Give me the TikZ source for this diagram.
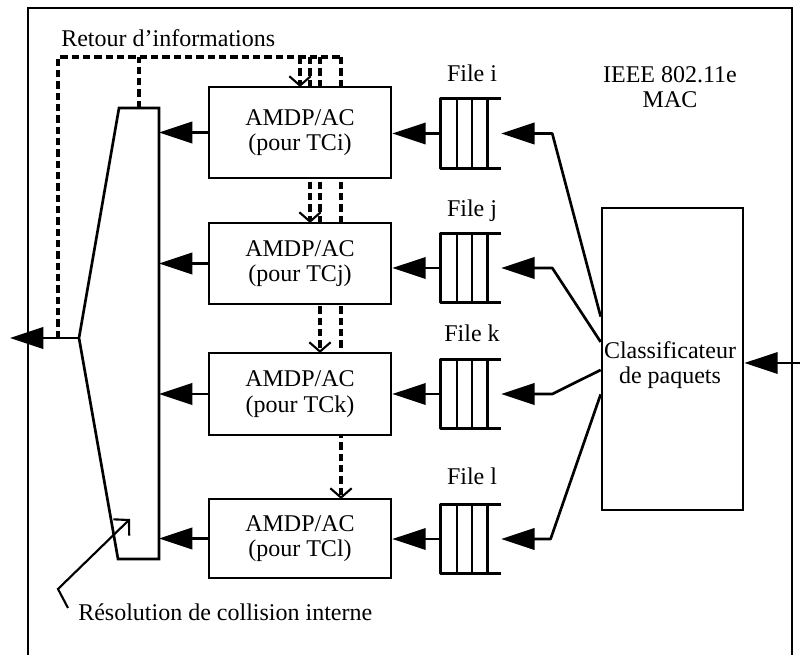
\documentclass[tikz,border=0pt]{standalone}
\usepackage{fontspec}
\setmainfont{Liberation Serif}
\usetikzlibrary{arrows.meta,calc}
\begin{document}
\begin{tikzpicture}[x=0.75pt,y=-0.75pt,
  every node/.style={font=\fontsize{18}{19}\selectfont},
  box/.style={draw,line width=2pt,fill=white,minimum width=136.5pt,align=center,inner sep=0pt},
  queue/.style={minimum width=45pt,minimum height=51.75pt,inner sep=0pt},
  qline/.style={line width=2pt,line join=round},
  arr/.style={line width=2pt,-{Triangle[length=25pt,width=16pt]}},
  dsh/.style={line width=2.6pt,dash pattern=on 5.5pt off 3pt},
  dsharr/.style={dsh,-{Straight Barb[length=7pt,width=16pt,line width=1.6pt]}},
  frame/.style={line width=1.6pt},
  lbl/.style={inner sep=0pt}
]
\useasboundingbox (0,0) rectangle (800,655);

% frame
\coordinate (fBL) at (28,655);
\coordinate (fTL) at (28,8);
\coordinate (fTR) at (792,8);
\coordinate (fBR) at (792,655);
\draw[frame] (fBL) -- (fTL) -- (fTR) -- (fBR);

% trapezoid coordinates
\coordinate (tTL) at (119,108);
\coordinate (tTR) at (159,108);
\coordinate (tBR) at (159,559);
\coordinate (tBL) at (118,559);
\coordinate (apex) at (79,338);
\coordinate (outTip) at (10,338);
\coordinate (fbTop) at (139,108);
\coordinate (fbLeft) at (58,338);
\coordinate (c1) at (58,57);
\coordinate (c2) at (341,57);

% feedback entry points on the boxes
\coordinate (di) at (300,87);
\coordinate (dj) at (310,223);
\coordinate (dk) at (320,353);
\coordinate (dl) at (341,499);

% dashed feedback
\draw[dsh] (fbLeft) -- (c1) -- (c2);
\draw[dsh] (fbTop) -- (fbTop |- c1);
\draw[dsharr] (di |- c1) -- (di);
\draw[dsharr] (dj |- c1) -- (dj);
\draw[dsharr] (dk |- c1) -- (dk);
\draw[dsharr] (c2) -- (dl);

% trapezoid
\draw[line width=2pt,line join=miter,fill=white] (tTL) -- (tTR) -- (tBR) -- (tBL) -- (apex) -- cycle;

% AMDP boxes
\node[box,minimum height=68.25pt] (ai) at (300,132.5) {AMDP/AC\\(pour TCi)};
\node[box,minimum height=60.75pt] (aj) at (300,263.5) {AMDP/AC\\(pour TCj)};
\node[box,minimum height=61.5pt] (ak) at (300,394) {AMDP/AC\\(pour TCk)};
\node[box,minimum height=59.25pt] (al) at (300,538.5) {AMDP/AC\\(pour TCl)};

% queues
\node[queue] (qi) at (471,133.5) {};
\node[queue] (qj) at (471,268) {};
\node[queue] (qk) at (471,394) {};
\node[queue] (ql) at (471,539) {};
\foreach \q in {qi,qj,qk,ql}{
  \draw[qline] (\q.north east) -- (\q.north west) -- (\q.south west) -- (\q.south east);
  \foreach \f in {0.267,0.517,0.767}
    \draw[qline] ($(\q.north west)!\f!(\q.north east)$) -- ($(\q.south west)!\f!(\q.south east)$);
}

% labels
\node[lbl,anchor=base west] (retour) at (61,47) {Retour d’informations};
\node[lbl,anchor=base] (fi) at (472,82) {File i};
\node[lbl,anchor=base] (fj) at (472,217) {File j};
\node[lbl,anchor=base] (fk) at (472,342) {File k};
\node[lbl,anchor=base] (fl) at (472,485) {File l};
\node[lbl,align=center] (mac) at (670,87) {IEEE 802.11e\\MAC};
\node[lbl,anchor=base west] (res) at (78,620) {Résolution de collision interne};

% classifier
\node[draw,line width=2pt,minimum width=105.75pt,minimum height=226.5pt,inner sep=0pt] (cl) at (672.5,359) {};
\node[lbl,align=center] (clt) at (670,365) {Classificateur\\de paquets};

% arrows queue -> box, box -> trapezoid
\foreach \q/\a in {qi/ai,qj/aj,qk/ak,ql/al}{
  \draw[arr] (\q.west) -- (\q.west -| \a.east);
  \draw[arr] (\a.west) -- (\a.west -| tTR);
}

% classifier -> queues
\draw[arr,line join=round] ($(cl.north west)!0.361!(cl.south west)$) -- ([xshift=38.25pt]qi.east) -- (qi.east);
\draw[arr,line join=round] ($(cl.north west)!0.444!(cl.south west)$) -- ([xshift=38.25pt]qj.east) -- (qj.east);
\draw[arr,line join=round] ($(cl.north west)!0.536!(cl.south west)$) -- ([xshift=38.25pt]qk.east) -- (qk.east);
\draw[arr,line join=round] ($(cl.north west)!0.616!(cl.south west)$) -- ([xshift=37pt]ql.east) -- (ql.east);

% input and output
\coordinate (inStart) at (800,363);
\draw[arr] (inStart) -- (inStart -| cl.east);
\draw[arr] (apex) -- (outTip);

% pointer to collision resolution
\coordinate (p1) at (68,608);
\coordinate (p2) at (58,589);
\coordinate (p3) at (130,519);
\draw[line width=1.6pt,-{Straight Barb[length=8pt,width=17pt]}] (p1) -- (p2) -- (p3);
\end{tikzpicture}
\end{document}
